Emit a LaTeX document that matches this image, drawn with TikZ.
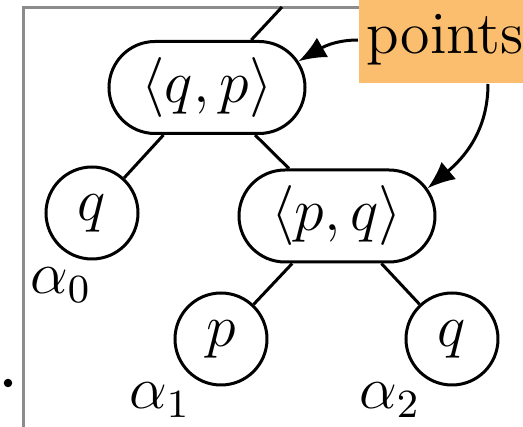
\documentclass[tikz,border=0pt]{standalone}
\usepackage{xcolor}
\usepackage{tikz}
\usetikzlibrary{arrows.meta,shapes.misc}
\definecolor{ptsorange}{HTML}{FBBE6E}
\definecolor{framegray}{HTML}{8C8C8C}

\begin{document}
\begin{tikzpicture}[x=0.2pt,y=0.2pt,>={Latex[length=5.5pt,width=4.5pt]},font=\large,
    pairbox/.style={draw,line width=0.6pt,rounded rectangle,minimum width=39.2pt,minimum height=18.4pt,inner sep=0pt},
    leaf/.style={draw,line width=0.6pt,circle,minimum size=18.4pt,inner sep=0pt},
    branch/.style={line width=0.6pt}]
    \useasboundingbox (0,0) rectangle (523,427);
    \draw[framegray,line width=0.6pt] (23.5,0) -- (23.5,419) -- (360,419);
    \fill (8,44) circle (0.85pt);

    \node[pairbox] (qp) at (207,339.5) {$\langle q,p\rangle$};
    \node[leaf] (leafq) at (92,214) {$q$};
    \node[pairbox] (pq) at (337,211) {$\langle p,q\rangle$};
    \node[leaf] (leafp) at (221,88) {$p$};
    \node[leaf] (leafqq) at (452,88) {$q$};

    \node (a0) at (61,142) {$\alpha_0$};
    \node (a1) at (160,27) {$\alpha_1$};
    \node (a2) at (390,27) {$\alpha_2$};

    \coordinate (up) at (282,420);
    \draw[branch] (up) -- (qp);
    \draw[branch] (qp) -- (leafq);
    \draw[branch] (qp) -- (pq);
    \draw[branch] (pq) -- (leafp);
    \draw[branch] (pq) -- (leafqq);

    \node[fill=ptsorange,minimum height=17.2pt,inner xsep=1.5pt,anchor=west] (pts) at (358,387) {points};
    \draw[->,branch] (pts.west) to[out=180,in=30] (qp.16);
    \draw[->,branch] ([xshift=26pt]pts.south west) to[out=-90,in=40] (pq.17);
\end{tikzpicture}
\end{document}
